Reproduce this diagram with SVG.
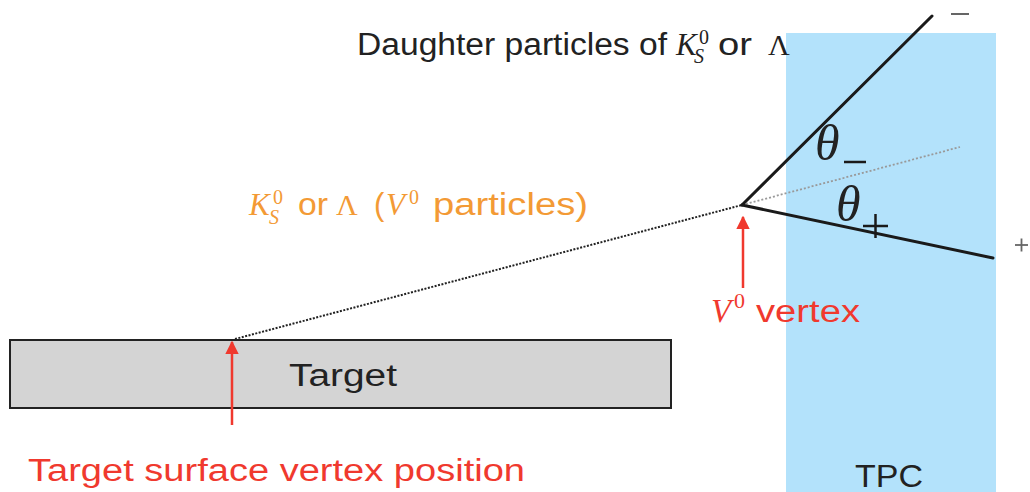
<svg xmlns="http://www.w3.org/2000/svg" width="1030" height="492" viewBox="0 0 1030 492">
<style>
.sans{font-family:"Liberation Sans","DejaVu Sans",sans-serif;}
.math{font-family:"Liberation Serif","DejaVu Serif",serif;}
.it{font-style:italic;}
.blk{fill:#222;}
.org{fill:#f39a35;}
.red{fill:#f0392e;}
.track{stroke:#1a1a1a;stroke-width:3;fill:none;stroke-linecap:round;}
.redarrow{stroke:#f0392e;stroke-width:2.5;fill:none;}
</style>
<defs>
<marker id="ah" viewBox="0 0 10 10" refX="9" refY="5" markerWidth="5.5" markerHeight="5.5" orient="auto" markerUnits="strokeWidth">
<path d="M0,0 L10,5 L0,10 z" fill="#f0392e"/>
</marker>
</defs>
<g id="tpc">
<rect x="786" y="33" width="210" height="470" fill="#b3e2fb"/>
<text class="sans blk" x="855" y="487" font-size="31" textLength="68" lengthAdjust="spacingAndGlyphs">TPC</text>
</g>
<g id="target">
<rect x="10" y="340" width="661" height="68" fill="#d4d4d4" stroke="#222" stroke-width="2"/>
<text class="sans blk" x="289" y="386" font-size="31" textLength="108" lengthAdjust="spacingAndGlyphs">Target</text>
</g>
<g id="connectors">
<line x1="235" y1="339" x2="742" y2="205" stroke="#222" stroke-width="2" stroke-dasharray="2 1.5"/>
<line x1="742" y1="205" x2="960" y2="147" stroke="#999" stroke-width="1.8" stroke-dasharray="2 2"/>
<line class="track" x1="742" y1="205" x2="932" y2="16"/>
<line class="track" x1="742" y1="205" x2="993" y2="258"/>
<line class="redarrow" x1="232" y1="425" x2="232" y2="342" marker-end="url(#ah)"/>
<line class="redarrow" x1="743" y1="288" x2="743" y2="217" marker-end="url(#ah)"/>
</g>
<g id="daughter-label">
<text class="sans blk" x="357" y="55" font-size="31" textLength="310" lengthAdjust="spacingAndGlyphs">Daughter particles of</text>
<text class="math it blk" x="676" y="55" font-size="31">K</text>
<text class="math it blk" x="694" y="63" font-size="20">S</text>
<text class="math blk" x="699" y="44" font-size="20">0</text>
<text class="sans blk" x="718" y="55" font-size="31" textLength="34" lengthAdjust="spacingAndGlyphs">or</text>
<text class="math blk" x="768" y="55" font-size="30">Λ</text>
</g>
<g id="v0-label">
<text class="math it org" x="249" y="215" font-size="31">K</text>
<text class="math it org" x="269" y="224" font-size="20">S</text>
<text class="math org" x="273" y="204" font-size="20">0</text>
<text class="sans org" x="298" y="215" font-size="31" textLength="30" lengthAdjust="spacingAndGlyphs">or</text>
<text class="math org" x="336" y="215" font-size="30">Λ</text>
<text class="sans org" x="374" y="215" font-size="31">(</text>
<text class="math it org" x="386" y="215" font-size="31">V</text>
<text class="math org" x="409" y="204" font-size="20">0</text>
<text class="sans org" x="433" y="215" font-size="31" textLength="155" lengthAdjust="spacingAndGlyphs">particles)</text>
</g>
<g id="vertex-label">
<text class="math it red" x="711" y="322" font-size="33">V</text>
<text class="math red" x="734" y="308" font-size="22">0</text>
<text class="sans red" x="756" y="322" font-size="31" textLength="104" lengthAdjust="spacingAndGlyphs">vertex</text>
</g>
<g id="surface-label">
<text class="sans red" x="28" y="481" font-size="31" textLength="497" lengthAdjust="spacingAndGlyphs">Target surface vertex position</text>
</g>
<g id="angles">
<text class="math it blk" x="815" y="160" font-size="50">θ</text>
<line x1="844" y1="162" x2="866" y2="162" stroke="#1a1a1a" stroke-width="2.5"/>
<text class="math it blk" x="836" y="221" font-size="50">θ</text>
<line x1="863" y1="226" x2="888" y2="226" stroke="#1a1a1a" stroke-width="2.5"/>
<line x1="875.5" y1="214" x2="875.5" y2="238" stroke="#1a1a1a" stroke-width="2.5"/>
</g>
<g id="charges">
<line x1="951" y1="14" x2="969" y2="14" stroke="#666" stroke-width="2"/>
<line x1="1015" y1="245" x2="1028" y2="245" stroke="#666" stroke-width="1.8"/>
<line x1="1021.5" y1="238.5" x2="1021.5" y2="251.5" stroke="#666" stroke-width="1.8"/>
</g>
</svg>
